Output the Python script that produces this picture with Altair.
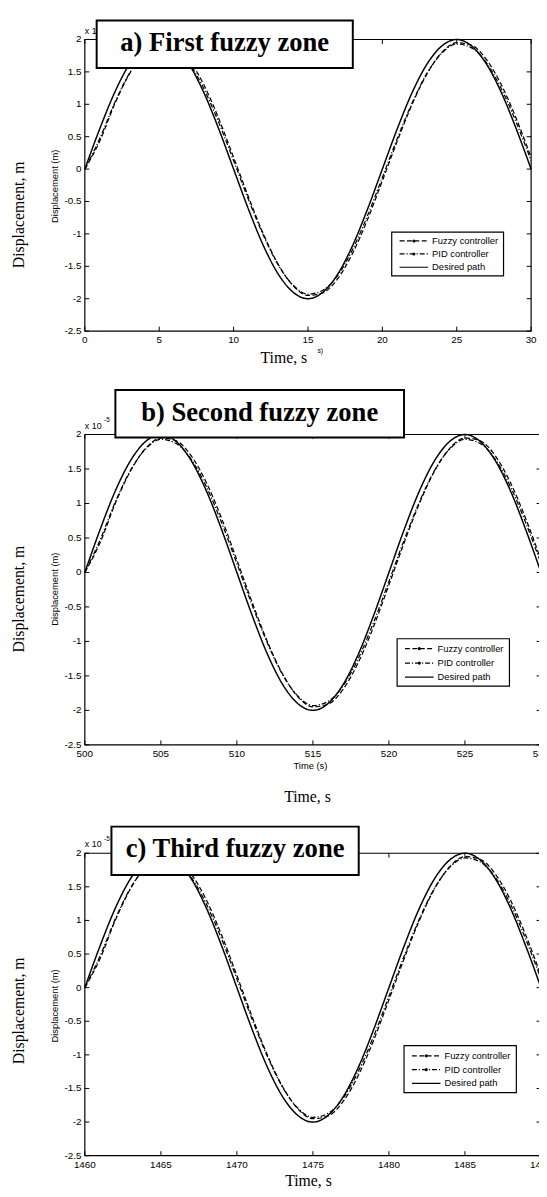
import altair as alt
import pandas as pd

# Displacement (units of 1e-5 m), read every 1 s over each 30 s window
DESIRED = [0.00, 0.62, 1.18, 1.62, 1.90, 2.00, 1.90, 1.62, 1.18, 0.62, 0.00,
           -0.62, -1.18, -1.62, -1.90, -2.00, -1.90, -1.62, -1.18, -0.62, 0.00,
           0.62, 1.18, 1.62, 1.90, 2.00, 1.90, 1.62, 1.18, 0.62, 0.00]
FUZZY = [0.00, 0.43, 1.00, 1.47, 1.80, 1.95, 1.91, 1.69, 1.30, 0.78, 0.18,
         -0.43, -1.00, -1.47, -1.80, -1.95, -1.91, -1.69, -1.30, -0.78, -0.18,
         0.43, 1.00, 1.47, 1.80, 1.95, 1.91, 1.69, 1.30, 0.78, 0.18]
PID = [0.00, 0.47, 1.02, 1.48, 1.79, 1.93, 1.87, 1.64, 1.24, 0.72, 0.13,
       -0.47, -1.02, -1.48, -1.79, -1.93, -1.87, -1.64, -1.24, -0.72, -0.13,
       0.47, 1.02, 1.48, 1.79, 1.93, 1.87, 1.64, 1.24, 0.72, 0.13]

TIME_A = list(range(0, 31))
TIME_B = list(range(500, 531))
TIME_C = list(range(1460, 1491))

XTICKS_A = [0, 5, 10, 15, 20, 25, 30]
XTICKS_B = [500, 505, 510, 515, 520, 525, 530]
XTICKS_C = [1460, 1465, 1470, 1475, 1480, 1485, 1490]
YTICKS = [2, 1.5, 1, 0.5, 0, -0.5, -1, -1.5, -2, -2.5]
YTICK_LABELS = ["2", "1.5", "1", "0.5", "0", "-0.5", "-1", "-1.5", "-2", "-2.5"]

SERIES = ["Fuzzy controller", "PID controller", "Desired path"]
TITLES = ["a) First fuzzy zone", "b) Second fuzzy zone", "c) Third fuzzy zone"]

SANS = "Liberation Sans"
SERIF = "Liberation Serif"
INK = "#000000"
W, H = 539, 1189

DASHES = {"Fuzzy controller": [5, 2.5], "PID controller": [5, 2, 1.2, 2], "Desired path": [1, 0]}

dummy = pd.DataFrame({"d": [0]})


def txt(s, x, y, size, font=SANS, align="center", angle=0, weight="normal", baseline="middle"):
    kw = dict(text=s, font=font, fontSize=size, align=align, baseline=baseline,
              color=INK, fontWeight=weight)
    if angle:
        kw["angle"] = angle
    return alt.Chart(dummy).mark_text(**kw).encode(x=alt.value(x), y=alt.value(y))


def box(x0, x1, y0, y1, sw=1.0, fill="white"):
    return alt.Chart(dummy).mark_rect(fill=fill, stroke=INK, strokeWidth=sw).encode(
        x=alt.value(x0), x2=alt.value(x1), y=alt.value(y0), y2=alt.value(y1))


def panel(times, xticks, g):
    left, right, top, bottom = g["plot"]
    xs = alt.Scale(domain=[xticks[0], xticks[-1]], range=[left, right], nice=False, zero=False)
    ys = alt.Scale(domain=[-2.5, 2], range=[bottom, top], nice=False, zero=False)
    X = alt.X("t:Q", scale=xs, axis=None)
    Y = alt.Y("v:Q", scale=ys, axis=None)
    layers = []
    for name, vals in [("Desired path", DESIRED), ("Fuzzy controller", FUZZY), ("PID controller", PID)]:
        df = pd.DataFrame({"t": times, "v": vals})
        sw = 1.5 if name == "Desired path" else 1.25
        layers.append(alt.Chart(df).mark_line(color=INK, strokeWidth=sw, strokeDash=DASHES[name],
                                              interpolate="monotone").encode(x=X, y=Y))
    # frame
    layers.append(alt.Chart(dummy).mark_rect(fillOpacity=0, stroke=INK, strokeWidth=1.2).encode(
        x=alt.value(left), x2=alt.value(right), y=alt.value(top), y2=alt.value(bottom)))
    xt = pd.DataFrame({"t": xticks, "lab": [str(v) for v in xticks]})
    yt = pd.DataFrame({"v": YTICKS, "lab": YTICK_LABELS})
    tl = 4.5
    layers += [
        alt.Chart(xt).mark_rule(color=INK, strokeWidth=1).encode(x=X, y=alt.value(bottom - tl), y2=alt.value(bottom)),
        alt.Chart(xt).mark_rule(color=INK, strokeWidth=1).encode(x=X, y=alt.value(top), y2=alt.value(top + tl)),
        alt.Chart(yt).mark_rule(color=INK, strokeWidth=1).encode(y=Y, x=alt.value(left), x2=alt.value(left + tl)),
        alt.Chart(yt).mark_rule(color=INK, strokeWidth=1).encode(y=Y, x=alt.value(right - tl), x2=alt.value(right)),
        alt.Chart(xt).mark_text(font=SANS, fontSize=10, align="center", baseline="middle", color=INK).encode(
            x=X, y=alt.value(bottom + 9.5), text="lab:N"),
        alt.Chart(yt).mark_text(font=SANS, fontSize=10, align="right", baseline="middle", color=INK).encode(
            y=Y, x=alt.value(left - 3.5), text="lab:N"),
    ]
    # axis titles
    layers.append(txt("Displacement (m)", 47.5, g["ysmall"], 9.5, angle=270))
    layers.append(txt("Displacement, m", 11, g["ybig"], 16, font=SERIF, angle=270))
    for s, x, y, size, font in g["xtexts"]:
        layers.append(txt(s, x, y, size, font=font))
    # legend
    x0, x1, y0, y1 = g["legend"]
    layers.append(box(x0, x1, y0, y1, sw=1.2))
    for name, ry in zip(SERIES, g["rows"]):
        layers.append(alt.Chart(dummy).mark_rule(color=INK, strokeWidth=1.2, strokeDash=DASHES[name]).encode(
            x=alt.value(x0 + 8), x2=alt.value(x0 + 37), y=alt.value(ry)))
        if name != "Desired path":
            layers.append(alt.Chart(dummy).mark_point(filled=True, size=10, color=INK, opacity=1).encode(
                x=alt.value(x0 + 22.5), y=alt.value(ry)))
        layers.append(txt(name, x0 + 41, ry, 9.5, align="left"))
    # exponent label
    layers.append(txt("x 10", left, top - 9, 9, align="left"))
    layers.append(txt("-5", left + 19.5, top - 14.5, 6.5, align="left"))
    # title box
    bx0, bx1, by0, by1 = g["tbox"]
    layers.append(box(bx0, bx1, by0, by1, sw=2))
    layers.append(txt(g["title"], (bx0 + bx1) / 2, by0 + 31.3, 27, font=SERIF, weight="bold",
                      baseline="alphabetic"))
    return alt.layer(*layers)


GA = dict(plot=(78, 531, 23, 319), tbox=(90, 350, 3.7, 52), title=TITLES[0],
          legend=(389.5, 503, 218.5, 263), rows=(227.5, 240.7, 254.2),
          ysmall=172, ybig=201,
          xtexts=[("Time, s", 280, 346, 16, SERIF), ("s)", 317, 339, 7, SANS)])
GB = dict(plot=(78, 541, 424, 739), tbox=(109, 402, 378.7, 427), title=TITLES[1],
          legend=(395, 509, 631.3, 679.3), rows=(641.3, 656, 670.3),
          ysmall=581, ybig=591,
          xtexts=[("Time (s)", 307, 761, 9.5, SANS), ("Time, s", 304, 792, 16, SERIF)])
GC = dict(plot=(78, 541, 849, 1156), tbox=(105, 356, 822, 871), title=TITLES[2],
          legend=(402, 516, 1044.3, 1092), rows=(1054.7, 1068.7, 1082.7),
          ysmall=1004, ybig=1009,
          xtexts=[("Time, s", 305, 1182, 16, SERIF)])

chart = alt.layer(
    panel(TIME_A, XTICKS_A, GA),
    panel(TIME_B, XTICKS_B, GB),
    panel(TIME_C, XTICKS_C, GC),
).resolve_scale(x="independent", y="independent").properties(
    width=W, height=H, padding=0, background="white",
    autosize=alt.AutoSizeParams(type="none"),
).configure_view(strokeWidth=0)

chart.save("out.html", embed_options={"renderer": "svg", "actions": False})
